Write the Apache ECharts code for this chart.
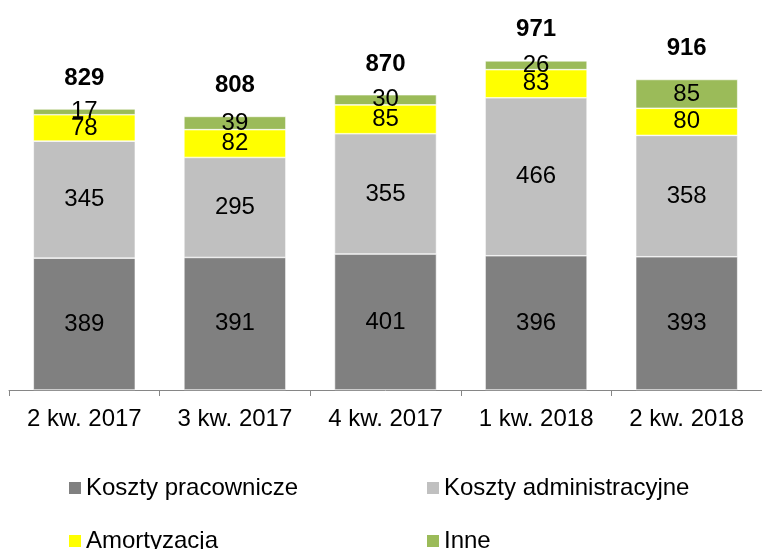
<!DOCTYPE html>
<html>
<head>
<meta charset="utf-8">
<script src="https://cdn.jsdelivr.net/npm/echarts@6/dist/echarts.min.js"></script>
<style>
  html, body { margin: 0; padding: 0; background: #fff; }
  #chart { width: 762px; height: 549px; }
</style>
</head>
<body>
<div id="chart"></div>
<script>
// kwartały
const categories = ['2 kw. 2017', '3 kw. 2017', '4 kw. 2017', '1 kw. 2018', '2 kw. 2018'];

// składniki kosztów (mln zł)
const kosztyPracownicze = [389, 391, 401, 396, 393];
const kosztyAdministracyjne = [345, 295, 355, 466, 358];
const amortyzacja = [78, 82, 85, 83, 80];
const inne = [17, 39, 30, 26, 85];
const suma = [829, 808, 870, 971, 916];

const FONT = '"Liberation Sans", Arial, sans-serif';

const chart = echarts.init(document.getElementById('chart'), null, { renderer: 'canvas' });

// wspólny styl segmentu słupka
const makeSeries = (name, data, color) => ({
  name: name,
  type: 'bar',
  stack: 'koszty',
  barWidth: 102,
  data: data,
  itemStyle: { color: color, borderColor: '#fff', borderWidth: 0.6 },
  label: {
    show: true,
    position: 'inside',
    color: '#000',
    fontFamily: FONT,
    fontSize: 24,
  },
  emphasis: { disabled: true },
});

const series = [
  makeSeries('Koszty pracownicze', kosztyPracownicze, '#808080'),
  makeSeries('Koszty administracyjne', kosztyAdministracyjne, '#C0C0C0'),
  makeSeries('Amortyzacja', amortyzacja, '#FFFF00'),
  makeSeries('Inne', inne, '#9BBB59'),
  // sumy nad słupkami
  {
    name: 'Suma',
    type: 'scatter',
    data: suma,
    symbolSize: 0,
    silent: true,
    itemStyle: { opacity: 1 },
    label: {
      show: true,
      position: 'top',
      distance: 19,
      color: '#000',
      fontFamily: FONT,
      fontSize: 24,
      fontWeight: 'bold',
    },
  },
];

// jedna legenda na pozycję (układ 2x2)
const legendItem = (name, left, top) => ({
  left: left,
  top: top,
  itemWidth: 14,
  itemHeight: 14,
  icon: 'rect',
  padding: 0,
  textStyle: { color: '#000', fontFamily: FONT, fontSize: 24, padding: [0, 0, 0, -1] },
  data: [name],
  selectedMode: false,
});

const option = {
  animation: false,
  grid: { left: 9, right: -9, top: 51, bottom: 159 },
  xAxis: {
    type: 'category',
    data: categories,
    axisLine: { lineStyle: { color: '#868686', width: 1 } },
    axisTick: { show: true, length: 6, lineStyle: { color: '#868686' } },
    axisLabel: { color: '#000', fontFamily: FONT, fontSize: 24, margin: 17 },
  },
  yAxis: {
    type: 'value',
    min: 0,
    max: 1000,
    show: false,
    splitLine: { show: false },
  },
  legend: [
    legendItem('Koszty pracownicze', 67, 476),
    legendItem('Koszty administracyjne', 425, 476),
    legendItem('Amortyzacja', 67, 529),
    legendItem('Inne', 425, 529),
  ],
  series: series,
};

chart.setOption(option);
</script>
</body>
</html>
